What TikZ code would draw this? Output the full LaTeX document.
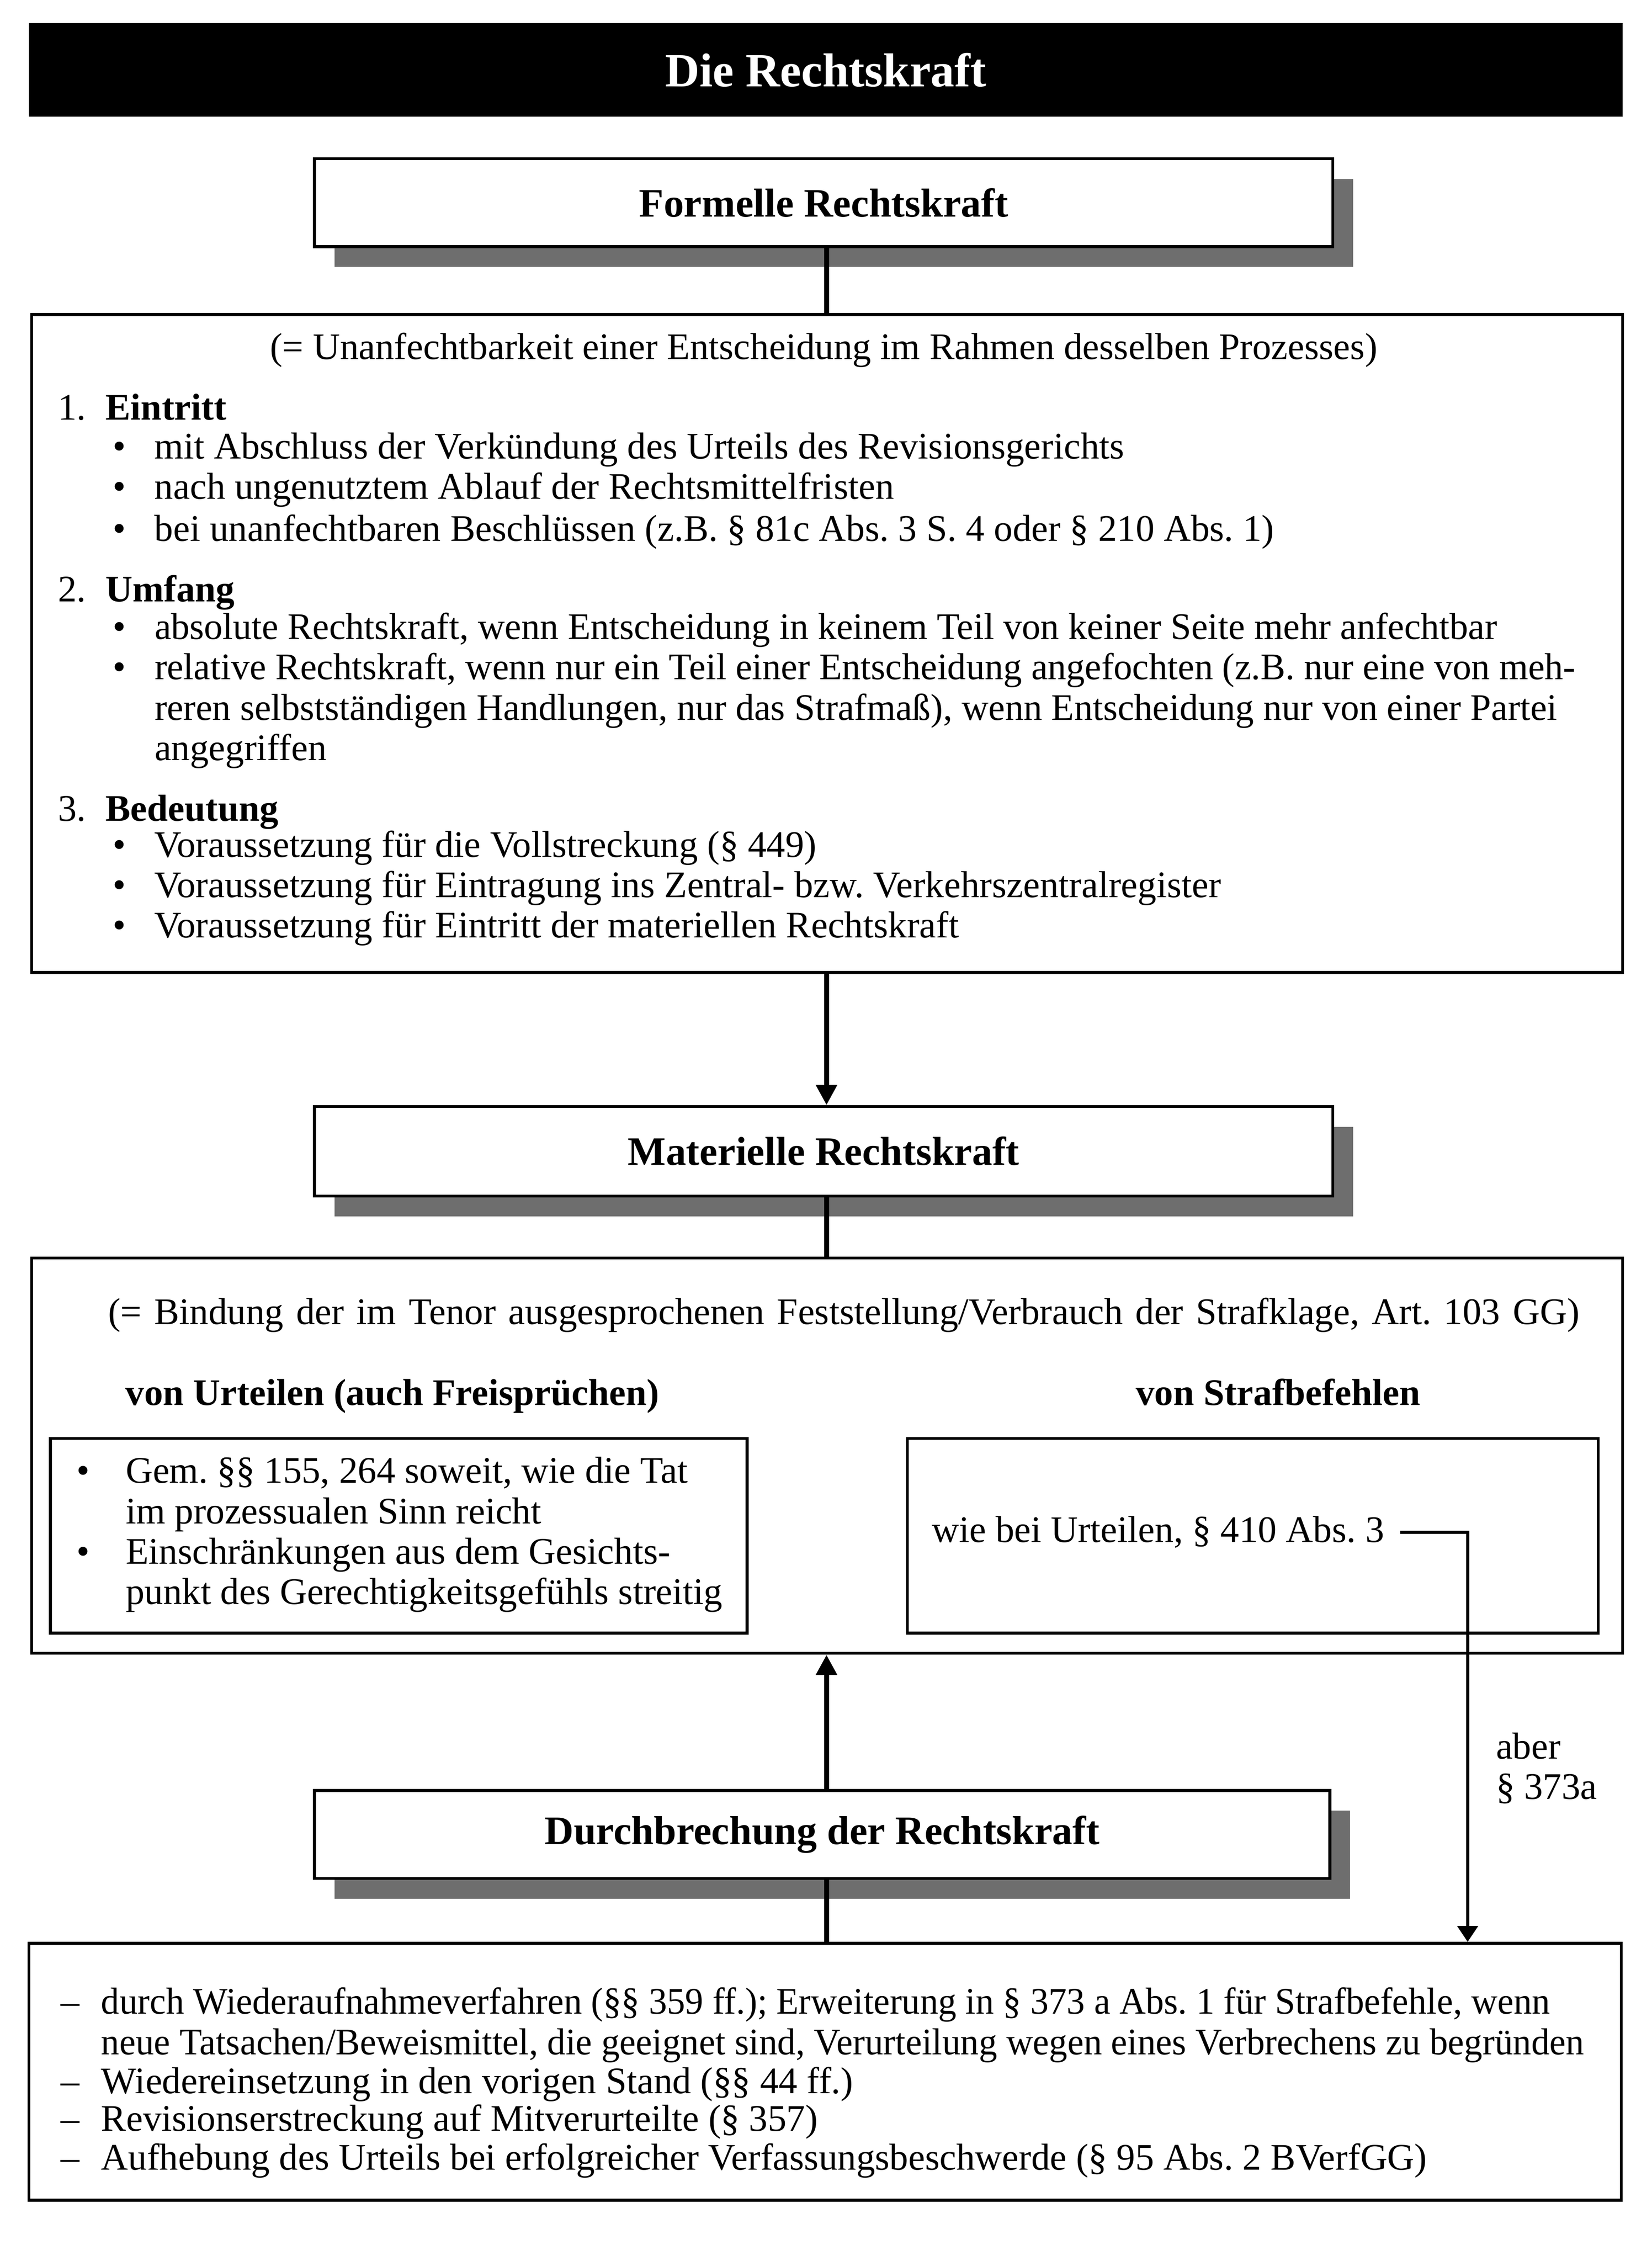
\documentclass[tikz,border=0pt]{standalone}
\usepackage{fontspec}
\setmainfont{Liberation Serif}
\usetikzlibrary{arrows.meta,shadows}
\frenchspacing
\begin{document}
\begin{tikzpicture}[x=1pt,y=-1pt,
  plainbox/.style={draw, line width=2pt, rectangle, inner sep=0pt},
  headbox/.style={plainbox, fill=white, minimum width=706pt, minimum height=61pt,
    font=\fontsize{28}{30}\selectfont\bfseries,
    drop shadow={shadow xshift=14pt, shadow yshift=-14pt, fill=black!57, opacity=1}},
  titlebar/.style={rectangle, fill=black, inner sep=0pt, text=white,
    font=\fontsize{33}{36}\selectfont\bfseries},
  txt/.style={anchor=base west, inner sep=0pt, font=\fontsize{26}{28}\selectfont},
  ctxt/.style={txt, anchor=base},
  btxt/.style={ctxt, font=\fontsize{26}{28}\selectfont\bfseries},
  conn/.style={line width=3.4pt},
  arr/.style={conn, -{Triangle[length=14pt,width=14pt]}},
  rarr/.style={line width=2.3pt, -{Triangle[length=11pt,width=14pt]}}
]
\newcommand{\bul}{\makebox[29pt][l]{\textbullet}}
\newcommand{\dsh}{\makebox[28pt][l]{–}}
\fill[white] (0,0) rectangle (1145,1567.2);
\useasboundingbox (0,0) rectangle (1145,1567.2);

\coordinate (axis) at (573,0);
\coordinate (raxis) at (1017.5,0);

% title
\node[titlebar, minimum width=1105pt, minimum height=65pt] (title) at (572.5,48.5) {Die Rechtskraft};

% Formelle Rechtskraft
\node[headbox] (formelle) at (571,140.5) {Formelle Rechtskraft};
\node[plainbox, minimum width=1103pt, minimum height=456pt] (box1) at (573.5,446) {};

\node[ctxt] (t0) at (571,249) {(= Unanfechtbarkeit einer Entscheidung im Rahmen desselben Prozesses)};
\node[txt] (h1) at (40,291) {\makebox[33pt][l]{1.}\textbf{Eintritt}};
\node[txt] (a1) at (78,318) {\bul mit Abschluss der Verkündung des Urteils des Revisionsgerichts};
\node[txt] (a2) at (78,346) {\bul nach ungenutztem Ablauf der Rechtsmittelfristen};
\node[txt] (a3) at (78,375) {\bul bei unanfechtbaren Beschlüssen (z.B. § 81c Abs. 3 S. 4 oder § 210 Abs. 1)};
\node[txt] (h2) at (40,417) {\makebox[33pt][l]{2.}\textbf{Umfang}};
\node[txt] (b1) at (78,443) {\bul \scalebox{0.992}[1]{absolute Rechtskraft, wenn Entscheidung in keinem Teil von keiner Seite mehr anfechtbar}};
\node[txt] (b2) at (78,471) {\bul \scalebox{0.992}[1]{relative Rechtskraft, wenn nur ein Teil einer Entscheidung angefochten (z.B. nur eine von meh-}};
\node[txt] (b3) at (107,499) {\scalebox{0.991}[1]{reren selbstständigen Handlungen, nur das Strafmaß), wenn Entscheidung nur von einer Partei}};
\node[txt] (b4) at (107,527) {angegriffen};
\node[txt] (h3) at (40,569) {\makebox[33pt][l]{3.}\textbf{Bedeutung}};
\node[txt] (c1) at (78,594) {\bul Voraussetzung für die Vollstreckung (§ 449)};
\node[txt] (c2) at (78,622) {\bul Voraussetzung für Eintragung ins Zentral- bzw. Verkehrszentralregister};
\node[txt] (c3) at (78,650) {\bul Voraussetzung für Eintritt der materiellen Rechtskraft};

% Materielle Rechtskraft
\node[headbox, minimum height=62pt] (materielle) at (571,798) {Materielle Rechtskraft};
\node[plainbox, minimum width=1103pt, minimum height=274pt] (box2) at (573.5,1009) {};
\node[ctxt] (m0) at (585,918) {\makebox[1020pt][s]{(= Bindung der im Tenor ausgesprochenen Feststellung/Verbrauch der Strafklage, Art. 103 GG)}};
\node[btxt] (mu) at (272,974) {von Urteilen (auch Freisprüchen)};
\node[btxt] (ms) at (886,974) {von Strafbefehlen};
\node[plainbox, minimum width=483pt, minimum height=135pt] (lbox) at (276.5,1064.5) {};
\node[plainbox, minimum width=479pt, minimum height=135pt] (rbox) at (868.5,1064.5) {};
\node[txt] (l1) at (53,1028) {\makebox[34pt][l]{\textbullet}Gem. §§ 155, 264 soweit, wie die Tat};
\node[txt] (l2) at (87,1056) {im prozessualen Sinn reicht};
\node[txt] (l3) at (53,1084) {\makebox[34pt][l]{\textbullet}Einschränkungen aus dem Gesichts-};
\node[txt] (l4) at (87,1112) {punkt des Gerechtigkeitsgefühls streitig};
\node[txt] (wie) at (646,1069) {wie bei Urteilen, § 410 Abs. 3};
\node[txt] (aber) at (1037,1219) {aber};
\node[txt] (par) at (1037,1247) {§ 373a};

% Durchbrechung
\node[headbox, minimum width=704pt] (durch) at (570,1271.5) {Durchbrechung der Rechtskraft};
\node[plainbox, minimum width=1104pt, minimum height=178pt] (box4) at (572,1436) {};
\node[txt] (d1) at (42,1396) {\dsh\scalebox{0.971}[1]{durch Wiederaufnahmeverfahren (§§ 359 ff.); Erweiterung in § 373 a Abs. 1 für Strafbefehle, wenn}};
\node[txt] (d2) at (70,1424) {\scalebox{0.977}[1]{neue Tatsachen/Beweismittel, die geeignet sind, Verurteilung wegen eines Verbrechens zu begründen}};
\node[txt] (d3) at (42,1451) {\dsh Wiedereinsetzung in den vorigen Stand (§§ 44 ff.)};
\node[txt] (d4) at (42,1477) {\dsh Revisionserstreckung auf Mitverurteilte (§ 357)};
\node[txt] (d5) at (42,1504) {\dsh Aufhebung des Urteils bei erfolgreicher Verfassungsbeschwerde (§ 95 Abs. 2 BVerfGG)};

% connectors
\draw[conn] (axis |- formelle.south) -- (axis |- box1.north);
\draw[arr] (axis |- box1.south) -- (axis |- materielle.north);
\draw[conn] (axis |- materielle.south) -- (axis |- box2.north);
\draw[arr] (axis |- durch.north) -- (axis |- box2.south);
\draw[conn] (axis |- durch.south) -- (axis |- box4.north);
\draw[rarr] ([xshift=11pt]wie.east) -| (raxis |- box4.north);
\end{tikzpicture}
\end{document}
